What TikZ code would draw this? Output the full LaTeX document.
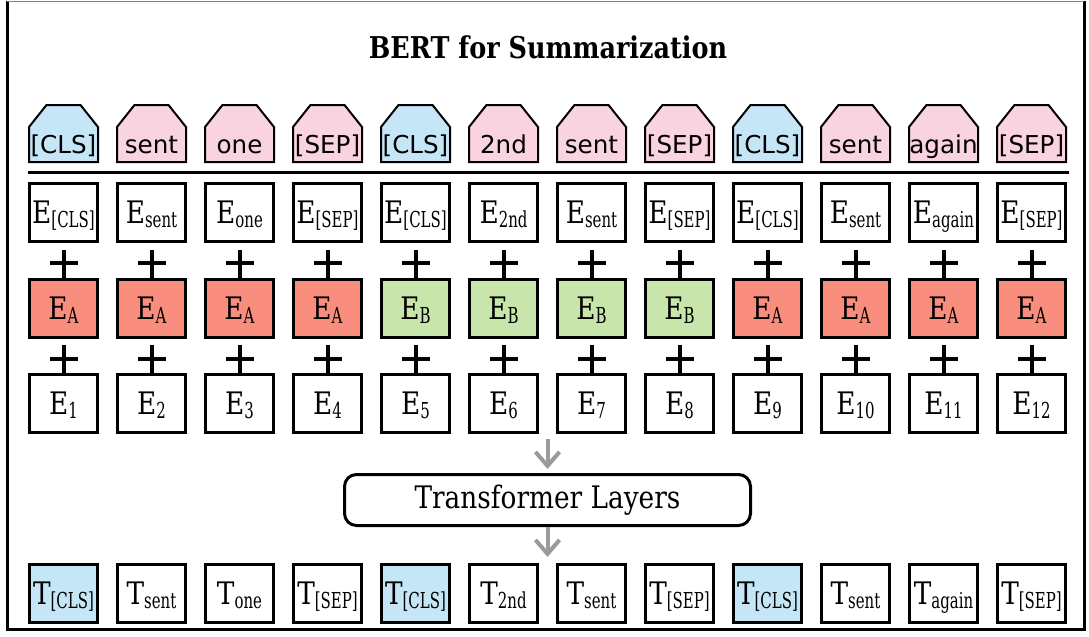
\documentclass[tikz,border=0pt]{standalone}
\usepackage{fontspec}
\setmainfont{DejaVu Serif}[FakeStretch=0.85]
\newfontfamily\tokfont{DejaVu Sans}
\newfontfamily\subfont{DejaVu Serif}[FakeStretch=0.68]
\usetikzlibrary{arrows.meta}
\definecolor{clsblue}{HTML}{C5E6F7}
\definecolor{tokpink}{HTML}{F9D3DF}
\definecolor{segred}{HTML}{FA8E7E}
\definecolor{seggreen}{HTML}{C8E6AC}
\definecolor{flowgray}{HTML}{9A9A9A}
\newcommand{\emb}[2]{#1\raisebox{-2pt}[0pt][0pt]{\subfont\fontsize{11}{12}\selectfont#2}}
\tikzset{
    embbox/.style={draw, line width=1.5pt, minimum width=34pt, minimum height=29pt, inner sep=0pt, font=\fontsize{15.5}{18}\selectfont},
    house/.style={draw, line width=1pt, line join=miter},
    plus/.style={line width=2pt},
    flow/.style={draw=flowgray, line width=2pt, -{Straight Barb[length=7pt,width=12pt]}}
}
\begin{document}
\begin{tikzpicture}[x=0.5pt,y=-0.5pt]
        \useasboundingbox (0,0) rectangle (1089,637);
        \draw[line width=1.5pt] (7,1) -- (7,629) -- (1084,629) -- (1084,1);
        \draw[gray, line width=0.5pt] (7,1) -- (1084,1);
        \node[font=\bfseries\fontsize{15}{18}\selectfont] (title) at (548,47) {BERT for Summarization};
        \draw[line width=1.5pt] (28,172) -- (1069,172);
        \foreach \i/\tok/\tcol/\seg/\scol/\ocol in {1/[CLS]/clsblue/A/segred/clsblue, 2/sent/tokpink/A/segred/white, 3/one/tokpink/A/segred/white, 4/[SEP]/tokpink/A/segred/white, 5/[CLS]/clsblue/B/seggreen/clsblue, 6/2nd/tokpink/B/seggreen/white, 7/sent/tokpink/B/seggreen/white, 8/[SEP]/tokpink/B/seggreen/white, 9/[CLS]/clsblue/A/segred/clsblue, 10/sent/tokpink/A/segred/white, 11/again/tokpink/A/segred/white, 12/[SEP]/tokpink/A/segred/white}{
            \pgfmathsetmacro{\cx}{63.5+88*(\i-1)}
            \draw[house, fill=\tcol] (\cx-34.5,162) -- (\cx-34.5,127) -- (\cx-17,105) -- (\cx+17,105) -- (\cx+34.5,127) -- (\cx+34.5,162) -- cycle;
            \node[font=\tokfont\fontsize{12.3}{14}\selectfont, anchor=base, inner sep=0pt] (tok\i) at (\cx,153) {\tok};
            \node[embbox] (emb\i) at (\cx,212) {\emb{E}{\tok}};
            \node[embbox, fill=\scol] (seg\i) at (\cx,308.5) {\emb{E}{\seg}};
            \node[embbox] (pos\i) at (\cx,403.5) {\emb{E}{\i}};
            \node[embbox, fill=\ocol] (out\i) at (\cx,593) {\emb{T}{\tok}};
            \draw[plus] ([yshift=-3.5pt]emb\i.south) -- (seg\i.north);
            \draw[plus] ([xshift=-7pt,yshift=-10.25pt]emb\i.south) -- ++(14pt,0);
            \draw[plus] ([yshift=-3pt]seg\i.south) -- (pos\i.north);
            \draw[plus] ([xshift=-7pt,yshift=-9.75pt]seg\i.south) -- ++(14pt,0);
        }
        \node[draw, rounded corners=6pt, line width=1.5pt, minimum width=203pt, minimum height=25.5pt, font=\fontsize{15.5}{18}\selectfont] (tf) at (547.5,500) {Transformer Layers};
        \draw[flow] ([yshift=17pt]tf.north) -- ([yshift=2pt]tf.north);
        \draw[flow] (tf.south) -- ([yshift=-15pt]tf.south);
    \end{tikzpicture}
\end{document}
